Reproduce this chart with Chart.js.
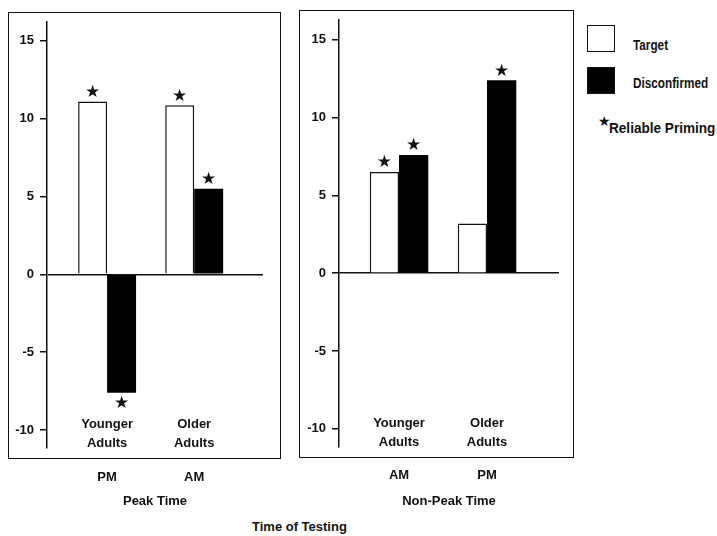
<!DOCTYPE html>
<html>
<head>
<meta charset="utf-8">
<script src="https://cdn.jsdelivr.net/npm/chart.js@4.4.1/dist/chart.umd.min.js"></script>
<style>
  body { margin: 0; background: #fff; }
  #page { position: relative; width: 717px; height: 536px; overflow: hidden;
          font-family: "Liberation Sans", Arial, sans-serif; color: #111; }
  .box { position: absolute; border: 1.5px solid #111; box-sizing: border-box; }
  canvas { position: absolute; }
  .txt { position: absolute; font-size: 13px; font-weight: bold; line-height: 16px; white-space: nowrap; }
  .leg { font-size: 14px; transform-origin: 0 50%; }
  .swatch { position: absolute; width: 28px; height: 27px; border: 1.5px solid #111; box-sizing: border-box; }
</style>
</head>
<body>
<div id="page">
  <div class="box" style="left:8px; top:12px; width:273px; height:447px;"></div>
  <div class="box" style="left:299px; top:10px; width:275px; height:448px;"></div>
  <canvas id="peak" width="275" height="515" style="left:8px; top:0;"></canvas>
  <canvas id="nonpeak" width="275" height="515" style="left:299px; top:0;"></canvas>

  <div class="swatch" style="left:587px; top:25px; background:#fff;"></div>
  <div class="swatch" style="left:587px; top:67px; background:#000;"></div>
  <div class="txt leg" style="left:633px; top:37px; transform:scaleX(0.84);">Target</div>
  <div class="txt leg" style="left:633px; top:75px; transform:scaleX(0.84);">Disconfirmed</div>
  <div class="txt" style="left:598px; top:113px; font-family:'DejaVu Sans'; font-size:14px;">★</div>
  <div class="txt leg" style="left:609px; top:120px; transform:scaleX(0.97);">Reliable Priming</div>
  <div class="txt" style="left:252px; top:519px;">Time of Testing</div>
</div>

<script>
// groups inside each panel
const groups = [["Younger", "Adults"], ["Older", "Adults"]];
const groupPos = [1, 2];

// peak time panel (younger tested PM, older tested AM)
const peakTimes = ["PM", "AM"];
const peakTarget = [11.1, 10.85];
const peakDisconfirmed = [-7.6, 5.5];
const peakTargetReliable = [true, true];
const peakDisconfirmedReliable = [true, true];

// non-peak time panel
const nonPeakTimes = ["AM", "PM"];
const nonPeakTarget = [6.5, 3.2];
const nonPeakDisconfirmed = [7.6, 12.4];
const nonPeakTargetReliable = [true, false];
const nonPeakDisconfirmedReliable = [true, true];

const yTicks = [-10, -5, 0, 5, 10, 15];

const FONT = '"Liberation Sans", Arial, sans-serif';
const INK = "#111";

// star over (or under) every reliable bar
const starPlugin = {
  id: "stars",
  afterDatasetsDraw(chart) {
    const ctx = chart.ctx;
    ctx.save();
    ctx.font = '17px "DejaVu Sans"';
    ctx.fillStyle = INK;
    ctx.textAlign = "center";
    ctx.textBaseline = "middle";
    chart.data.datasets.forEach((ds, di) => {
      chart.getDatasetMeta(di).data.forEach((bar, i) => {
        if (!ds.reliable[i]) return;
        const up = bar.y <= bar.base;
        ctx.fillText("★", bar.x, up ? bar.y - 9 : bar.y + 11);
      });
    });
    ctx.restore();
  },
};

// "Younger Adults" / "Older Adults" written inside the plot, above the bottom
const groupLabelPlugin = {
  id: "groupLabels",
  afterDraw(chart) {
    const ctx = chart.ctx;
    const x = chart.scales.x;
    const bottom = chart.chartArea.bottom;
    ctx.save();
    ctx.font = "bold 13px " + FONT;
    ctx.fillStyle = INK;
    ctx.textAlign = "center";
    ctx.textBaseline = "alphabetic";
    groups.forEach((lines, i) => {
      const px = x.getPixelForValue(groupPos[i]);
      ctx.fillText(lines[0], px, bottom - 20);
      ctx.fillText(lines[1], px, bottom - 1);
    });
    ctx.restore();
  },
};

function makePanel(id, o) {
  const ctx = document.getElementById(id).getContext("2d");
  return new Chart(ctx, {
    type: "bar",
    data: {
      datasets: [
        {
          label: "Target",
          data: o.target.map((v, i) => ({ x: groupPos[i], y: v })),
          reliable: o.targetReliable,
          backgroundColor: "#fff",
          borderColor: INK,
          borderWidth: 1.5,
        },
        {
          label: "Disconfirmed",
          data: o.disconfirmed.map((v, i) => ({ x: groupPos[i], y: v })),
          reliable: o.disconfirmedReliable,
          backgroundColor: "#000",
          borderColor: "#000",
          borderWidth: 0,
        },
      ],
    },
    options: {
      responsive: false,
      animation: false,
      categoryPercentage: 0.665,
      barPercentage: 1,
      layout: { padding: { top: o.top, right: o.right, left: 0, bottom: 0 } },
      plugins: { legend: { display: false }, tooltip: { enabled: false } },
      scales: {
        x: {
          type: "linear",
          offset: false,
          bounds: "data",
          min: o.xMin,
          max: o.xMax,
          afterBuildTicks: (axis) => {
            axis.ticks = groupPos.map((v) => ({ value: v }));
          },
          afterFit: (scale) => {
            scale.height = o.xHeight;
          },
          grid: { display: false, drawTicks: false },
          border: { display: false },
          ticks: {
            padding: o.tickPad,
            color: INK,
            font: { family: FONT, size: 13, weight: "bold" },
            maxRotation: 0,
            callback: (v) => o.times[groupPos.indexOf(v)],
          },
          title: {
            display: true,
            text: o.title,
            color: INK,
            font: { family: FONT, size: 13, weight: "bold" },
            padding: { top: 0, bottom: 6 },
          },
        },
        y: {
          min: o.yMin,
          max: o.yMax,
          bounds: "data",
          afterBuildTicks: (axis) => {
            axis.ticks = yTicks.map((v) => ({ value: v }));
          },
          afterFit: (scale) => {
            scale.width = o.yWidth;
          },
          border: { display: true, color: INK, width: 1.5 },
          grid: {
            color: (c) => (c.tick && c.tick.value === 0 ? INK : "rgba(0,0,0,0)"),
            lineWidth: 1.5,
            tickColor: INK,
            tickLength: 7,
            tickWidth: 1.5,
          },
          ticks: {
            padding: 6,
            color: INK,
            font: { family: FONT, size: 13, weight: "bold" },
          },
        },
      },
    },
    plugins: [starPlugin, groupLabelPlugin],
  });
}

makePanel("peak", {
  target: peakTarget,
  disconfirmed: peakDisconfirmed,
  targetReliable: peakTargetReliable,
  disconfirmedReliable: peakDisconfirmedReliable,
  times: peakTimes,
  title: "Peak Time",
  xMin: 0.31,
  xMax: 2.79,
  yMin: -11.15,
  yMax: 16.2,
  top: 22,
  right: 20,
  yWidth: 39,
  xHeight: 67,
  tickPad: 22,
});

makePanel("nonpeak", {
  target: nonPeakTarget,
  disconfirmed: nonPeakDisconfirmed,
  targetReliable: nonPeakTargetReliable,
  disconfirmedReliable: nonPeakDisconfirmedReliable,
  times: nonPeakTimes,
  title: "Non-Peak Time",
  xMin: 0.318,
  xMax: 2.818,
  yMin: -11.17,
  yMax: 16.27,
  top: 20,
  right: 15,
  yWidth: 40,
  xHeight: 68,
  tickPad: 21,
});
</script>
</body>
</html>
